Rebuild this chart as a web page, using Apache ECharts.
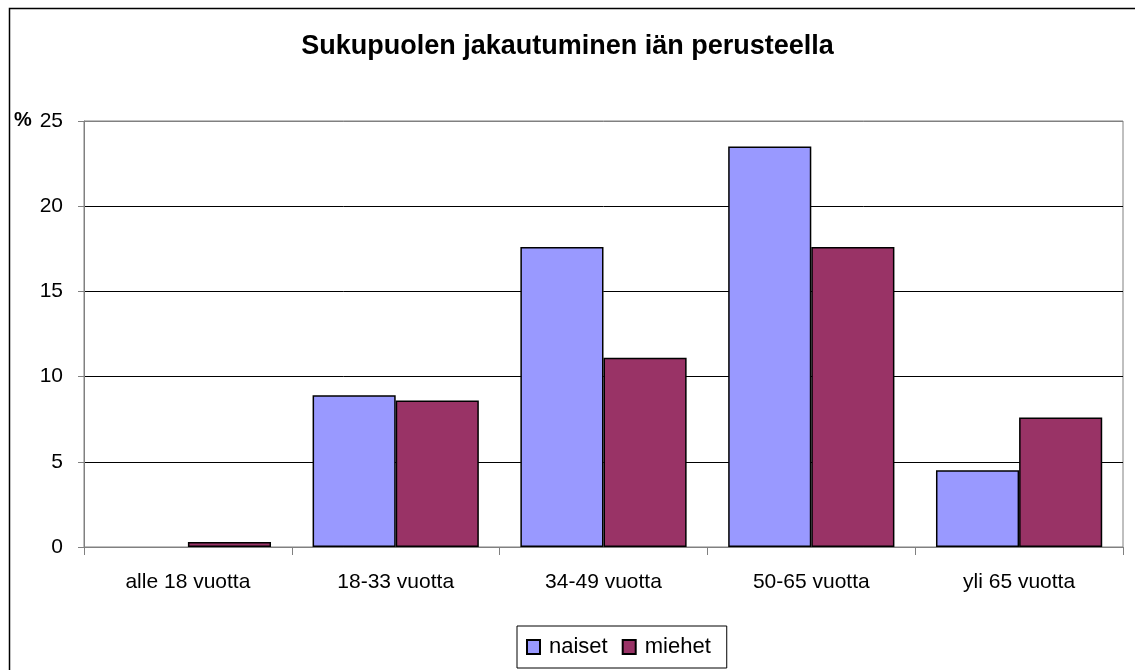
<!DOCTYPE html>
<html lang="fi">
<head>
  <meta charset="UTF-8">
  <title>Sukupuolen jakautuminen iän perusteella</title>
  <script src="https://cdn.jsdelivr.net/npm/echarts@6.0.0/dist/echarts.min.js"></script>
  <style>
    html, body { margin: 0; padding: 0; background: #fff; }
  </style>
</head>
<body>
  <div id="main" style="width: 1135px; height: 670px;"></div>

  <script>
    // Age groups and shares (%)
    const categories = ['alle 18 vuotta', '18-33 vuotta', '34-49 vuotta', '50-65 vuotta', 'yli 65 vuotta'];
    const naiset = [0, 8.9, 17.6, 23.5, 4.5];
    const miehet = [0.3, 8.6, 11.1, 17.6, 7.6];

    const myChart = echarts.init(document.getElementById('main'));
    const font = '"Liberation Sans", Arial, sans-serif';

    // zero-height bars get no outline, so nothing darkens the axis line
    const toBars = values => values.map(v => v === 0 ? { value: v, itemStyle: { borderWidth: 0 } } : v);

    const options = {
      backgroundColor: '#fff',
      animation: false,
      title: {
        text: 'Sukupuolen jakautuminen iän perusteella',
        left: 'center',
        top: 28,
        textStyle: { fontFamily: font, fontSize: 27, fontWeight: 'bold', color: '#000' }
      },
      legend: {
        left: 517,
        top: 626,
        padding: [10, 16, 10, 9],
        itemGap: 14,
        itemWidth: 13,
        itemHeight: 14,
        borderColor: '#000',
        borderWidth: 1,
        backgroundColor: '#fff',
        icon: 'rect',
        textStyle: { fontFamily: font, fontSize: 22, color: '#000', padding: [0, 0, 0, 4] },
        data: ['naiset', 'miehet']
      },
      grid: {
        left: 84,
        right: 12,
        top: 121,
        bottom: 123,
        show: true,
        borderColor: '#808080',
        borderWidth: 1
      },
      xAxis: {
        type: 'category',
        data: categories,
        axisLine: { lineStyle: { color: '#808080' } },
        axisTick: { show: true, length: 8, lineStyle: { color: '#808080' } },
        axisLabel: { fontFamily: font, fontSize: 21, color: '#000', margin: 25 }
      },
      yAxis: {
        type: 'value',
        min: 0,
        max: 25,
        interval: 5,
        axisLine: { show: true, lineStyle: { color: '#808080' } },
        axisTick: { show: true, length: 6, lineStyle: { color: '#808080' } },
        axisLabel: { fontFamily: font, fontSize: 21, color: '#000', margin: 21 },
        splitLine: {
          lineStyle: { color: ['#808080', '#000', '#000', '#000', '#000', '#808080'], width: 1 }
        }
      },
      series: [
        {
          name: 'naiset',
          type: 'bar',
          data: toBars(naiset),
          barGap: '0%',
          barCategoryGap: '20%',
          itemStyle: { color: '#9999ff', borderColor: '#000', borderWidth: 1.5 }
        },
        {
          name: 'miehet',
          type: 'bar',
          data: toBars(miehet),
          barGap: '0%',
          barCategoryGap: '20%',
          itemStyle: { color: '#993366', borderColor: '#000', borderWidth: 1.5 }
        }
      ],
      graphic: [
        {
          // outer chart frame, cut off at the right and bottom like the original
          type: 'rect',
          shape: { x: 9.5, y: 8.5, width: 1200, height: 700 },
          style: { fill: null, stroke: '#000', lineWidth: 1.5 },
          silent: true
        },
        {
          type: 'text',
          left: 14,
          top: 110,
          style: { text: '%', font: 'bold 20px "Liberation Sans", Arial, sans-serif', fill: '#000' }
        }
      ]
    };

    myChart.setOption(options);
  </script>
</body>
</html>
